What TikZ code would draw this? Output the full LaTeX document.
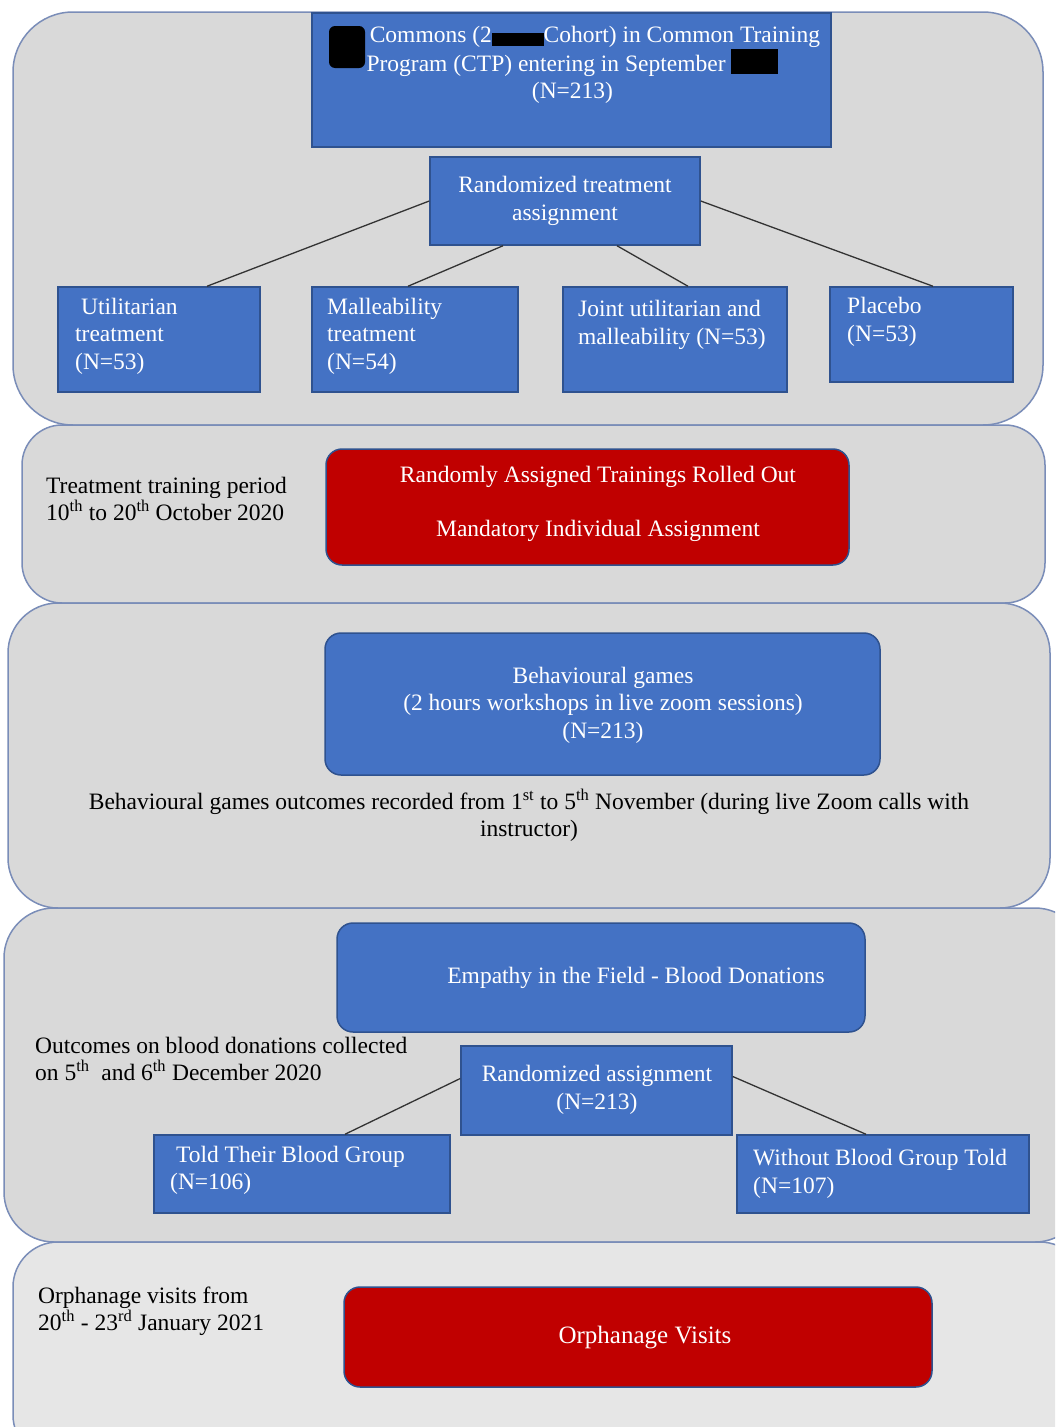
\documentclass[tikz,border=0pt]{standalone}
\usepackage{fontspec}
\setmainfont{Liberation Serif}
\usetikzlibrary{positioning}
\definecolor{boxblue}{HTML}{4472C4}
\definecolor{boxedge}{HTML}{2F528F}
\definecolor{boxred}{HTML}{C00000}
\definecolor{panelgray}{HTML}{D9D9D9}
\definecolor{panellight}{HTML}{E6E6E6}
\definecolor{paneledge}{HTML}{7A8DB8}
\newcommand\redact[2]{{\color{black}\rule[-0.3ex]{#1}{#2}}}
\tikzset{
  panel/.style={draw=paneledge, line width=1.5pt, fill=panelgray},
  bluebox/.style={draw=boxedge, line width=1.5pt, fill=boxblue, text=white, inner sep=0pt},
  redbox/.style={draw=boxedge, line width=1.5pt, fill=boxred, text=white, inner sep=0pt, rounded corners=16pt},
  roundblue/.style={bluebox, rounded corners=16pt},
  wtext/.style={text=white, inner sep=0pt, font=\fontsize{23.5}{27.5}\selectfont},
  btext/.style={text=black, inner sep=0pt, font=\fontsize{23.5}{27}\selectfont},
  conn/.style={draw=black!80, line width=1.3pt}
}
\begin{document}
\begin{tikzpicture}[x=1pt,y=-1pt]
\useasboundingbox (0,0) rectangle (1055,1427);
\clip (0,0) rectangle (1055,1427);
\fill[white] (0,0) rectangle (1055,1427);
% panels
\path[panel, rounded corners=60pt] (13,12) rectangle (1043,425);
\path[panel, rounded corners=40pt] (22,425) rectangle (1045,603);
\path[panel, rounded corners=50pt] (8,603) rectangle (1050,908);
\path[panel, rounded corners=50pt] (4,908) rectangle (1085,1242);
\path[panel, fill=panellight, rounded corners=45pt] (13,1242) rectangle (1085,1460);

% top box
\node[bluebox, minimum width=519pt, minimum height=134pt] (top) at (571.5,80) {};
\node[wtext, align=center] (toptxt) at (572.5,65) {\hspace{45pt}Commons (2\redact{2.2em}{0.55em}Cohort) in Common Training\\Program (CTP) entering in September \redact{2em}{1.1em}\\(N=213)};
\fill[black, rounded corners=6pt] (329,26) rectangle (365,68);

\node[bluebox, minimum width=270pt, minimum height=88pt] (rta) at (565,201) {};
\node[wtext, align=center] at (565,201) {Randomized treatment\\assignment};

\node[bluebox, minimum width=202pt, minimum height=105pt] (util) at (159,339.5) {};
\node[wtext, align=left, anchor=west] at (75,336) {\ Utilitarian\\treatment\\(N=53)};
\node[bluebox, minimum width=206pt, minimum height=105pt] (mall) at (415,339.5) {};
\node[wtext, align=left, anchor=west] at (327,336) {Malleability\\treatment\\(N=54)};
\node[bluebox, minimum width=224pt, minimum height=105pt] (joint) at (675,339.5) {};
\node[wtext, align=left, anchor=west] at (578,325) {Joint utilitarian and\\malleability (N=53)};
\node[bluebox, minimum width=183pt, minimum height=95pt] (plac) at (921.5,334.5) {};
\node[wtext, align=left, anchor=west] at (847,322) {Placebo\\(N=53)};

\coordinate (c1) at (207,287);
\draw[conn] (rta.west) -- (util.north -| c1);
\draw[conn] ([xshift=-62pt]rta.south) -- ([xshift=-7pt]mall.north);
\draw[conn] ([xshift=52pt]rta.south) -- ([xshift=13pt]joint.north);
\draw[conn] (rta.east) -- ([xshift=11.5pt]plac.north);

% panel 2
\node[btext, align=left, anchor=west] (ttp) at (46,499) {Treatment training period\\10\textsuperscript{th} to 20\textsuperscript{th} October 2020};
\node[redbox, minimum width=523pt, minimum height=116pt] (roll) at (587.5,507) {};
\node[wtext, align=center] at (598,504) {Randomly Assigned Trainings Rolled Out\\[27pt]Mandatory Individual Assignment};

% panel 3
\node[roundblue, minimum width=555pt, minimum height=142pt] (games) at (602.5,704) {};
\node[wtext, align=center] at (603,705) {Behavioural games\\(2 hours workshops in live zoom sessions)\\(N=213)};
\node[btext, align=center] (gout) at (529,815.5) {Behavioural games outcomes recorded from 1\textsuperscript{st} to 5\textsuperscript{th} November (during live Zoom calls with\\instructor)};

% panel 4
\node[roundblue, minimum width=528pt, minimum height=109pt] (emp) at (601,977.5) {};
\node[wtext] at (636,978) {Empathy in the Field - Blood Donations};
\node[btext, align=left, anchor=west] (bout) at (35,1059) {Outcomes on blood donations collected\\on 5\textsuperscript{th}\ \ and 6\textsuperscript{th} December 2020};
\node[bluebox, minimum width=271pt, minimum height=89pt] (ra) at (596.5,1090.5) {};
\node[wtext, align=center] at (597,1090) {Randomized assignment\\(N=213)};
\node[bluebox, minimum width=296pt, minimum height=78pt] (told) at (302,1174) {};
\node[wtext, align=left, anchor=west] at (170,1170.5) {\ Told Their Blood Group\\(N=106)};
\node[bluebox, minimum width=292pt, minimum height=78pt] (without) at (883,1174) {};
\node[wtext, align=left, anchor=west] at (753,1174) {Without Blood Group Told\\(N=107)};
\draw[conn] ([yshift=12pt]ra.west) -- ([xshift=43pt]told.north);
\draw[conn] ([yshift=14pt]ra.east) -- ([xshift=-17pt]without.north);

% panel 5
\node[btext, align=left, anchor=west] (ovt) at (38,1311) {Orphanage visits from\\20\textsuperscript{th} - 23\textsuperscript{rd} January 2021};
\node[redbox, minimum width=588pt, minimum height=100pt] (orph) at (638,1337) {};
\node[wtext, font=\fontsize{25}{29}\selectfont] at (645,1338) {Orphanage Visits};
\end{tikzpicture}
\end{document}
